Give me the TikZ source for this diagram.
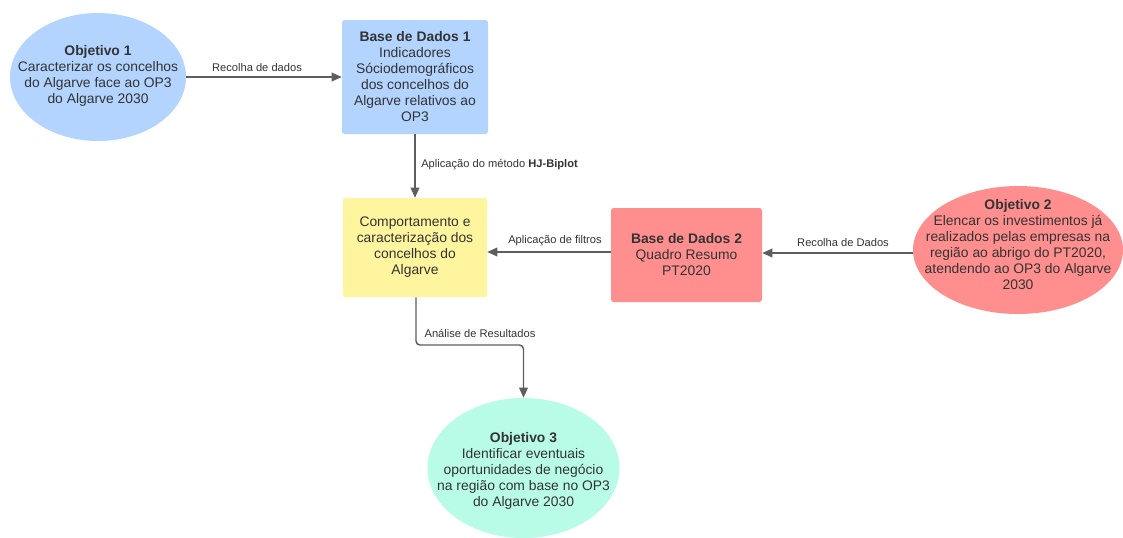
\documentclass[tikz,border=0pt]{standalone}
\usepackage{fontspec}
\setmainfont{Liberation Sans}
\usetikzlibrary{shapes.geometric,arrows.meta}
\definecolor{txt}{HTML}{333333}
\definecolor{ln}{HTML}{5E5E5E}
\definecolor{cblue}{HTML}{B3D4FF}
\definecolor{cred}{HTML}{FF8F8F}
\definecolor{cyel}{HTML}{FFF59E}
\definecolor{cteal}{HTML}{B8FCE8}
\tikzset{
  maintext/.style={text=txt, align=center, font=\fontsize{10.4pt}{12pt}\selectfont},
  oval/.style={ellipse, inner sep=0pt, draw=none},
  ovaltext/.style={maintext, inner sep=0pt},
  box/.style={maintext, rectangle, rounded corners=2pt, inner sep=0pt},
  conn/.style={draw=ln, line width=1.1pt, -{Triangle[length=7.5pt,width=6.5pt]}},
  lbl/.style={text=txt, font=\fontsize{8.35pt}{9pt}\selectfont, inner sep=0pt}
}
\begin{document}
\begin{tikzpicture}[x=0.75pt,y=-0.75pt]
\useasboundingbox (0,0) rectangle (1123,537);
\node[oval, fill=cblue, minimum width=132pt, minimum height=96pt] (o1) at (98,77) {};
\node[ovaltext] (o1t) at (98,76)
  {\textbf{Objetivo 1}\\Caracterizar os concelhos\\do Algarve face ao OP3\\do Algarve 2030};
\node[box, fill=cblue, minimum width=109.5pt, minimum height=85.5pt] (bd1) at (415,77)
  {\textbf{Base de Dados 1}\\Indicadores\\Sóciodemográficos\\dos concelhos do\\Algarve relativos ao\\OP3};
\node[box, fill=cyel, minimum width=108pt, minimum height=74.25pt] (y) at (415,247.5)
  {Comportamento e\\caracterização dos\\concelhos do\\Algarve};
\node[box, fill=cred, minimum width=113.25pt, minimum height=70.5pt] (bd2) at (686.5,255)
  {\textbf{Base de Dados 2}\\Quadro Resumo\\PT2020};
\node[oval, fill=cred, minimum width=157.5pt, minimum height=96pt] (o2) at (1018,250) {};
\node[ovaltext] (o2t) at (1018,245)
  {\textbf{Objetivo 2}\\Elencar os investimentos já\\realizados pelas empresas na\\região ao abrigo do PT2020,\\atendendo ao OP3 do Algarve\\2030};
\node[oval, fill=cteal, minimum width=144pt, minimum height=105pt] (o3) at (523.5,468) {};
\node[ovaltext] (o3t) at (523.5,471)
  {\textbf{Objetivo 3}\\Identificar eventuais\\oportunidades de negócio\\na região com base no OP3\\do Algarve 2030};

\draw[conn] (o1.east) -- (bd1.west |- o1.east);
\node[lbl] (l1) at (257,68) {Recolha de dados};

\draw[conn] (bd1.south) -- (y.north);
\node[lbl, anchor=west] (l2) at (421,165) {Aplicação do método \textbf{HJ-Biplot}};

\coordinate (a2) at (611,252);
\coordinate (b2) at (487,252);
\draw[conn] (bd2.west |- a2) -- (y.east |- b2);
\node[lbl] (l3) at (555,241) {Aplicação de filtros};

\coordinate (a3) at (913,253);
\draw[conn] (o2.west |- a3) -- (bd2.east |- a3);
\node[lbl] (l4) at (843,243) {Recolha de Dados};

\coordinate (k1) at (416,345);
\coordinate (k2) at (523.5,345);
\draw[conn, rounded corners=3pt] (y.south -| k1) -- (k1) -- (k2) -- (o3.north);
\node[lbl] (l5) at (480,333) {Análise de Resultados};
\end{tikzpicture}
\end{document}
